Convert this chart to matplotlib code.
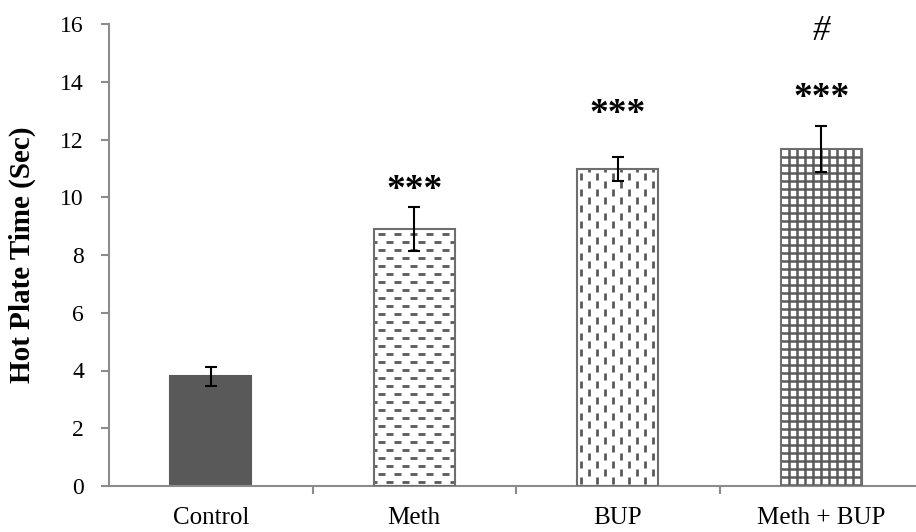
import matplotlib
matplotlib.use("Agg")
import matplotlib.pyplot as plt
import numpy as np

categories = ["Control", "Meth", "BUP", "Meth + BUP"]
means = [3.8, 8.9, 10.97, 11.66]
errors = [0.32, 0.75, 0.42, 0.80]
star_labels = ["", "***", "***", "***"]
star_y = [0, 10.25, 12.85, 13.42]
hash_labels = ["", "", "", "#"]
hash_y = [0, 0, 0, 15.73]
yticks = [0, 2, 4, 6, 8, 10, 12, 14, 16]

plt.rcParams['font.family'] = ['Liberation Serif', 'DejaVu Serif']
plt.rcParams['lines.scale_dashes'] = False

W, H = 916, 532
fig = plt.figure(figsize=(W / 100, H / 100), dpi=100)
left, right, top, bottom = 109, 923, 24, 486
ax = fig.add_axes([left / W, 1 - bottom / H, (right - left) / W, (bottom - top) / H])

x = np.arange(len(categories))
gray = "#595959"
edge = "#6e6e6e"
bars = ax.bar(x, means, width=0.4, color=["#595959", "white", "white", "white"],
              edgecolor=["#595959", edge, edge, edge], linewidth=1.5, zorder=2)
ax.errorbar(x, means, yerr=errors, fmt="none", ecolor="black", elinewidth=1.5,
            capsize=4.3, capthick=1.5, zorder=5)

ax.set_xlim(-0.5, 3.5)
ax.set_ylim(0, 16)
ax.set_yticks(yticks)
ax.set_xticks(x)
ax.set_xticklabels(categories, fontsize=18)
ax.set_xticks(np.arange(0.5, 3.5, 1.0), minor=True)
ax.tick_params(axis="x", which="major", length=0, pad=15)
ax.tick_params(axis="x", which="minor", length=6, width=1.5, color="#8c8c8c", direction="out")
ax.tick_params(axis="y", length=6, width=1.5, color="#8c8c8c", labelsize=17, pad=12)

for s in ["top", "right"]:
    ax.spines[s].set_visible(False)
for s in ["left", "bottom"]:
    ax.spines[s].set_color("#8c8c8c")
    ax.spines[s].set_linewidth(1.5)

ax.set_ylabel("Hot Plate Time (Sec)", fontsize=21, fontweight="bold")
ax.yaxis.set_label_coords(-(109 - 36) / (923 - 109), 0.5)

# pixel scale helpers for fill patterns
px_per_y = (bottom - top) / 16.0
px_per_x = (right - left) / 4.0
pt = 72 / 100.0  # points per pixel
dy = 8 / px_per_y
dx = 8 / px_per_x

# Meth: horizontal dashed rows
b = bars[1]
x0, w, h = b.get_x(), b.get_width(), b.get_height()
for i, yy in enumerate(np.arange(h - dy * 0.6, 0, -dy)):
    ln, = ax.plot([x0, x0 + w], [yy, yy], color=gray, lw=2.0,
                  linestyle=(((i % 2) * 8 + 12) * pt, (7 * pt, 9 * pt)),
                  dash_capstyle="butt", zorder=3)
    ln.set_clip_path(b)

# BUP: vertical dashed columns
b = bars[2]
x0, w, h = b.get_x(), b.get_width(), b.get_height()
for i, xx in enumerate(np.arange(x0 + dx * 0.5, x0 + w, dx)):
    ln, = ax.plot([xx, xx], [h, 0], color=gray, lw=2.0,
                  linestyle=(((i % 2) * 8 + 12) * pt, (7 * pt, 9 * pt)),
                  dash_capstyle="butt", zorder=3)
    ln.set_clip_path(b)

# Meth + BUP: grid
b = bars[3]
x0, w, h = b.get_x(), b.get_width(), b.get_height()
for xx in np.arange(x0 + dx, x0 + w, dx):
    ln, = ax.plot([xx, xx], [0, h], color=gray, lw=1.8, zorder=3)
    ln.set_clip_path(b)
for yy in np.arange(h - dy, 0, -dy):
    ln, = ax.plot([x0, x0 + w], [yy, yy], color=gray, lw=1.8, zorder=3)
    ln.set_clip_path(b)

for b in bars[1:]:
    b.set_zorder(4)
    b.set_facecolor("none")

for xi, lab, yy in zip(x, star_labels, star_y):
    if lab:
        ax.text(xi, yy, lab, ha="center", va="center", fontsize=27, fontweight="bold")
for xi, lab, yy in zip(x, hash_labels, hash_y):
    if lab:
        ax.text(xi, yy, lab, ha="center", va="center", fontsize=25, style="italic")

fig.savefig("out.png", dpi=100)
